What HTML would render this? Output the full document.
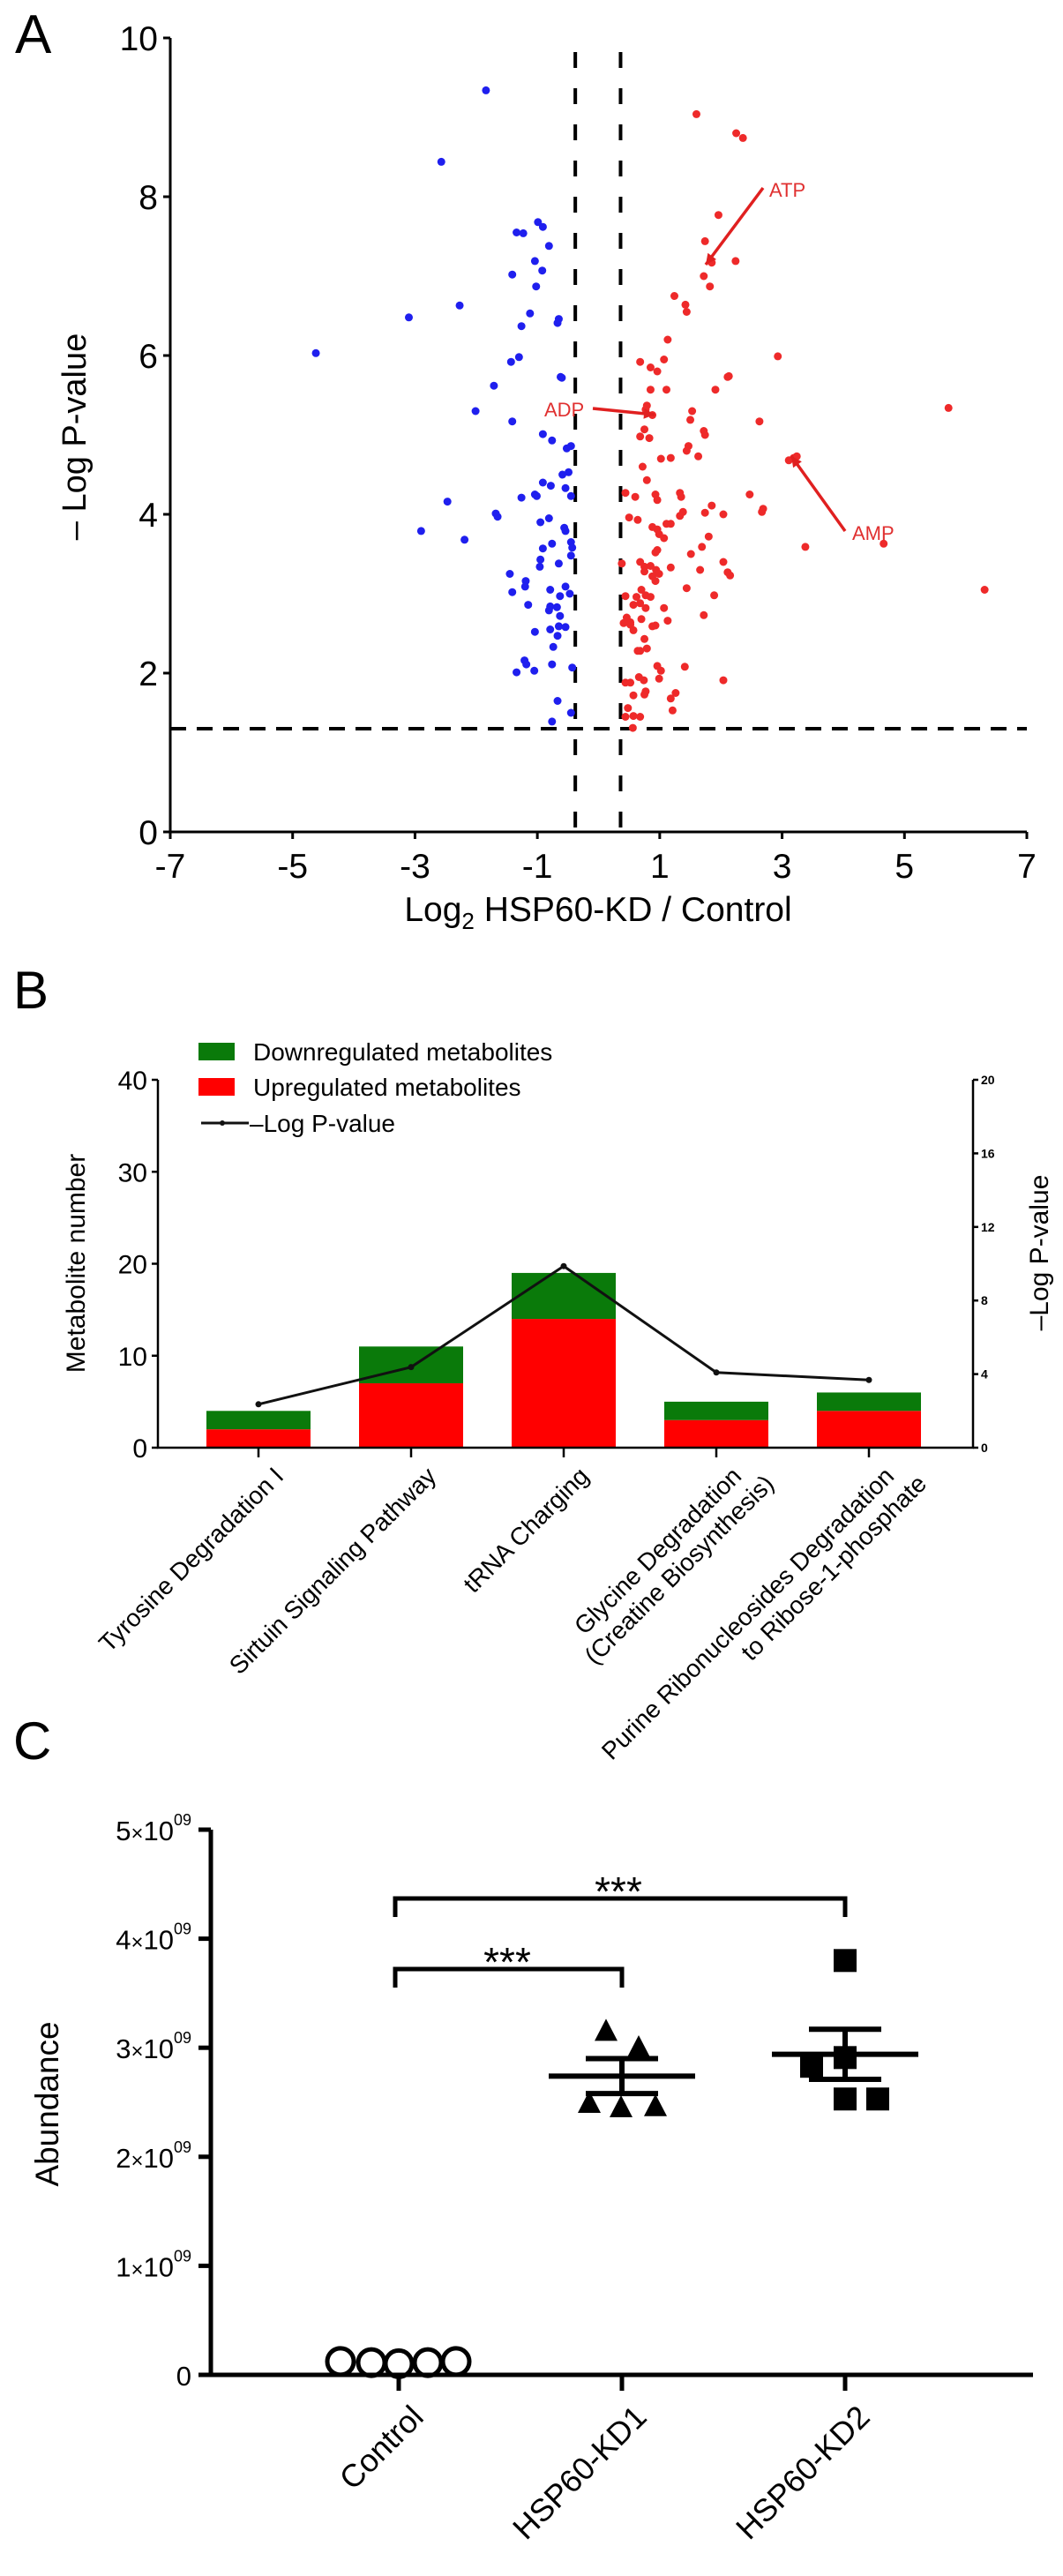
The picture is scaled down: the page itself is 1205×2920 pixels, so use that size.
<!DOCTYPE html>
<html><head><meta charset="utf-8"><style>
html,body{margin:0;padding:0;background:#fff;}
svg{display:block;font-family:"Liberation Sans",Arial,sans-serif;}
</style></head><body>
<svg id="fig" width="1205" height="2920" viewBox="0 0 1205 2920" xmlns="http://www.w3.org/2000/svg">
<g id="pa"></g>
<g id="pb"></g>
<g id="pc"></g>
</svg>
<script>
// ---------- Panel A data ----------
const blueX=[-1.84,-2.57,-0.99,-0.91,-1.34,-1.23,-0.81,-1.04,-0.92,-1.41,-1.02,-2.27,-3.10,-1.12,-0.65,-0.67,-1.26,-4.62,-1.30,-1.43,-0.62,-0.60,-1.71,-2.01,-1.41,-0.91,-0.76,-0.45,-0.52,-0.49,-0.59,-0.91,-0.78,-0.54,-0.45,-1.04,-1.01,-1.26,-2.47,-1.68,-1.65,-0.81,-0.95,-0.56,-0.54,-2.90,-2.19,-0.45,-0.76,-0.43,-0.91,-0.45,-0.95,-0.65,-0.96,-1.45,-1.19,-1.20,-0.79,-0.54,-1.41,-0.47,-0.63,-1.15,-0.79,-0.68,-0.81,-0.63,-0.65,-0.54,-0.79,-1.04,-0.67,-0.74,-1.21,-1.18,-0.76,-1.05,-1.34,-0.43,-0.67,-0.45,-0.76];
const blueY=[9.34,8.44,7.68,7.62,7.55,7.54,7.38,7.19,7.07,7.02,6.87,6.63,6.48,6.53,6.46,6.41,6.37,6.03,5.98,5.92,5.73,5.72,5.62,5.30,5.17,5.01,4.93,4.86,4.83,4.53,4.50,4.40,4.36,4.33,4.23,4.25,4.23,4.21,4.16,4.01,3.97,3.95,3.90,3.83,3.79,3.79,3.68,3.65,3.63,3.58,3.57,3.48,3.43,3.38,3.34,3.25,3.16,3.09,3.05,3.09,3.02,3.00,2.97,2.86,2.84,2.83,2.79,2.72,2.59,2.58,2.55,2.52,2.47,2.33,2.16,2.11,2.11,2.03,2.01,2.07,1.65,1.50,1.39];
const redX=[1.60,2.25,2.36,1.96,1.74,2.24,1.85,1.72,1.82,1.24,1.42,1.44,1.13,2.93,0.68,1.07,0.85,0.96,2.11,2.13,1.91,0.85,1.11,5.72,0.79,0.77,0.88,1.53,1.50,2.63,0.75,1.72,1.74,0.68,0.83,1.47,1.44,1.63,3.19,3.24,3.11,1.02,1.18,0.72,0.79,0.44,0.60,0.93,0.96,1.33,1.35,2.47,1.85,1.38,1.33,1.74,2.04,2.69,2.67,0.50,0.64,0.88,0.96,1.11,1.18,1.80,0.99,1.07,3.38,4.66,1.69,0.96,0.93,1.51,0.38,0.68,0.75,0.85,0.94,0.88,0.99,1.18,1.66,2.04,2.11,2.15,0.75,0.93,6.31,1.44,0.70,0.77,0.44,0.62,0.85,1.89,0.68,0.57,0.77,1.07,1.72,0.46,0.70,0.52,1.13,0.41,0.52,0.88,0.57,0.93,0.75,0.79,0.64,0.68,0.96,1.41,1.02,0.66,0.74,0.99,2.04,0.44,0.52,1.26,1.18,0.77,0.75,0.57,1.21,0.48,0.57,0.44,0.68,0.56];
const redY=[9.04,8.80,8.74,7.77,7.44,7.19,7.17,7.00,6.87,6.75,6.64,6.55,6.20,5.99,5.92,5.95,5.85,5.80,5.73,5.74,5.57,5.57,5.57,5.34,5.37,5.32,5.25,5.30,5.19,5.17,5.07,5.05,5.00,4.98,4.96,4.86,4.80,4.73,4.71,4.73,4.68,4.70,4.71,4.60,4.43,4.27,4.22,4.25,4.18,4.27,4.22,4.25,4.11,4.03,3.98,4.02,4.00,4.07,4.03,3.96,3.93,3.84,3.81,3.88,3.88,3.72,3.75,3.70,3.59,3.63,3.59,3.55,3.52,3.50,3.38,3.40,3.34,3.35,3.30,3.22,3.25,3.33,3.30,3.40,3.27,3.23,3.28,3.16,3.05,3.07,3.05,2.98,2.97,2.96,2.96,2.98,2.88,2.86,2.82,2.82,2.73,2.70,2.68,2.64,2.66,2.63,2.61,2.59,2.54,2.60,2.43,2.31,2.28,2.28,2.09,2.08,2.03,1.95,1.91,1.93,1.91,1.88,1.88,1.75,1.68,1.77,1.73,1.72,1.53,1.56,1.46,1.45,1.45,1.31];
const aXTicks=[-7,-5,-3,-1,1,3,5,7];
const aYTicks=[0,2,4,6,8,10];
const foldCut=[-0.38,0.36];
const pCut=[1.3];

// ---------- Panel B data ----------
const pathways=[["Tyrosine Degradation I"],["Sirtuin Signaling Pathway"],["tRNA Charging"],["Glycine Degradation","(Creatine Biosynthesis)"],["Purine Ribonucleosides Degradation","to Ribose-1-phosphate"]];
const upCounts=[2,7,14,3,4];
const downCounts=[2,4,5,2,2];
const logP=[2.36,4.38,9.87,4.09,3.68];
const bLeftTicks=[0,10,20,30,40];
const bRightTicks=[0,4,8,12,16,20];

// ---------- Panel C data ----------
const groups=["Control","HSP60-KD1","HSP60-KD2"];
const ctrlVals=[0.09,0.08,0.07,0.08,0.09];
const kd1Vals=[3.16,3.01,2.50,2.46,2.47];
const kd2Vals=[3.80,2.83,2.91,2.53,2.53];
const groupMeans=[0.08,2.74,2.94];
const groupSem=[0.01,0.16,0.23];
const cYTicks=[0,1,2,3,4,5];

const NS="http://www.w3.org/2000/svg";
function mk(parent,tag,attrs){const e=document.createElementNS(NS,tag);for(const k in attrs)e.setAttribute(k,attrs[k]);parent.appendChild(e);return e;}

// ===== Panel A =====
(function(){
const g=document.getElementById('pa');
const x=v=>193+(v+7)*(1164-193)/14;
const y=v=>943-v*90;
let t=mk(g,'text',{x:17,y:60,'font-size':62});t.textContent='A';


let ax=mk(g,'path',{d:`M${x(-7)} ${y(10)}V${y(0)}H${x(7)}`,stroke:'#000','stroke-width':3,fill:'none'});


aYTicks.forEach(v=>{
  mk(g,'line',{x1:x(-7)-8,x2:x(-7),y1:y(v),y2:y(v),stroke:'#000','stroke-width':3});
  const l=mk(g,'text',{x:x(-7)-14,y:y(v)+14,'font-size':39,'text-anchor':'end'});l.textContent=v;
  
  
});
aXTicks.forEach(v=>{
  mk(g,'line',{x1:x(v),x2:x(v),y1:y(0),y2:y(0)+8,stroke:'#000','stroke-width':3});
  const l=mk(g,'text',{x:x(v),y:y(0)+52,'font-size':39,'text-anchor':'middle'});l.textContent=v;
  
  
});
foldCut.forEach(v=>{
  const d=mk(g,'line',{x1:x(v),x2:x(v),y1:59,y2:y(0),stroke:'#000','stroke-width':4,'stroke-dasharray':'18 23'});
  
  
});
pCut.forEach(v=>{
  const d=mk(g,'line',{x1:x(-7),x2:x(7),y1:y(v),y2:y(v),stroke:'#000','stroke-width':4,'stroke-dasharray':'18 12'});
  
  
});
blueX.forEach((v,i)=>{
  const c=mk(g,'circle',{cx:x(v),cy:y(blueY[i]),r:4.5,fill:'#1f1fee'});
  
  
});
redX.forEach((v,i)=>{
  const c=mk(g,'circle',{cx:x(v),cy:y(redY[i]),r:4.5,fill:'#ee2a2a'});
  
  
});
const ann=[['ATP',872,223,865,213,800,300],['ADP',617,472,672,463,742,470],['AMP',966,612,958,602,897,517]];
ann.forEach(a=>{
  const l=mk(g,'line',{x1:a[3],y1:a[4],x2:a[5],y2:a[6],stroke:'#e02020','stroke-width':3.5});
  
  
  const ang=Math.atan2(a[6]-a[4],a[5]-a[3]);
  const hx=a[5],hy=a[6],L=12,W=6;
  const p1=[hx-L*Math.cos(ang)+W*Math.sin(ang),hy-L*Math.sin(ang)-W*Math.cos(ang)];
  const p2=[hx-L*Math.cos(ang)-W*Math.sin(ang),hy-L*Math.sin(ang)+W*Math.cos(ang)];
  mk(g,'polygon',{points:`${hx},${hy} ${p1} ${p2}`,fill:'#e02020'});
  const t=mk(g,'text',{x:a[1],y:a[2],'font-size':22,fill:'#e03030'});t.textContent=a[0];
  
  
});
let yl=mk(g,'text',{transform:'translate(97,495) rotate(-90)','font-size':38,'text-anchor':'middle'});yl.textContent='– Log P-value';


let xl=mk(g,'text',{x:678,y:1044,'font-size':39,'text-anchor':'middle'});
xl.innerHTML='Log<tspan font-size="26" dy="9">2</tspan><tspan dy="-9"> HSP60-KD / Control</tspan>';


})();

// ===== Panel B =====
(function(){
const g=document.getElementById('pb');
const x0=179,x1=1103,yb=1641,yt=1224;
const yL=v=>yb-v*(yb-yt)/40;
const yR=v=>yb-v*(yb-yt)/20;
const cx=i=>293+i*173;
let t=mk(g,'text',{x:15,y:1143,'font-size':60});t.textContent='B';


upCounts.forEach((u,i)=>{
  const d=downCounts[i];
  const r1=mk(g,'rect',{x:cx(i)-59,y:yL(u),width:118,height:yL(0)-yL(u),fill:'#ff0000'});
  
  
  const r2=mk(g,'rect',{x:cx(i)-59,y:yL(u+d),width:118,height:yL(u)-yL(u+d),fill:'#0a7a0a'});
  
  
});
let ax=mk(g,'path',{d:`M${x0} ${yt}V${yb}H${x1}V${yt}`,stroke:'#000','stroke-width':2.5,fill:'none'});


bLeftTicks.forEach(v=>{
  mk(g,'line',{x1:x0-7,x2:x0,y1:yL(v),y2:yL(v),stroke:'#000','stroke-width':2.5});
  const l=mk(g,'text',{x:x0-12,y:yL(v)+11,'font-size':30,'text-anchor':'end'});l.textContent=v;
  
  
});
bRightTicks.forEach(v=>{
  mk(g,'line',{x1:x1,x2:x1+6,y1:yR(v),y2:yR(v),stroke:'#000','stroke-width':2.5});
  const l=mk(g,'text',{x:x1+9,y:yR(v)+5,'font-size':14,'font-weight':'bold'});l.textContent=v;
  
  
});
const pts=logP.map((v,i)=>cx(i)+','+yR(v)).join(' ');
let pl=mk(g,'polyline',{points:pts,fill:'none',stroke:'#111','stroke-width':3});


logP.forEach((v,i)=>{
  const m=mk(g,'circle',{cx:cx(i),cy:yR(v),r:3.5,fill:'#111'});
  
  
});
pathways.forEach((lines,i)=>{
  mk(g,'line',{x1:cx(i),x2:cx(i),y1:yb,y2:yb+11,stroke:'#000','stroke-width':2.5});
  const px=cx(i)+30,py=yb+34;
  const tx=mk(g,'text',{transform:`translate(${px},${py}) rotate(-45)`,'font-size':28,'text-anchor':'end'});
  
  
  lines.forEach((s,j)=>{const ts=mk(tx,'tspan',{x:j?20:0,dy:j?'1.15em':0});ts.textContent=s;});
});
const leg=[['#0a7a0a','Downregulated metabolites',1192,'legend-downregulated'],['#ff0000','Upregulated metabolites',1232,'legend-upregulated']];
leg.forEach(l=>{
  const r=mk(g,'rect',{x:225,y:l[2]-10,width:41,height:20,fill:l[0]});
  
  
  const tx=mk(g,'text',{x:287,y:l[2]+10,'font-size':28});tx.textContent=l[1];
  
  
});
mk(g,'line',{x1:228,x2:282,y1:1273,y2:1273,stroke:'#111','stroke-width':3});
mk(g,'circle',{cx:252,cy:1273,r:3,fill:'#111'});
let lt=mk(g,'text',{x:283,y:1283,'font-size':28});lt.textContent='–Log P-value';


let yl=mk(g,'text',{transform:'translate(96,1432) rotate(-90)','font-size':30,'text-anchor':'middle'});yl.textContent='Metabolite number';


let yr=mk(g,'text',{transform:'translate(1188,1420) rotate(-90)','font-size':30,'text-anchor':'middle'});yr.textContent='–Log P-value';


})();

// ===== Panel C =====
(function(){
const g=document.getElementById('pc');
const x0=239,y0=2692;
const y=v=>y0-v*123.6;
const gx=[452,705,958];
let t=mk(g,'text',{x:15,y:1994,'font-size':60});t.textContent='C';


let ax=mk(g,'path',{d:`M${x0} ${y(5)}V${y0}M${x0-14} ${y0}H1171`,stroke:'#000','stroke-width':5,fill:'none'});


cYTicks.forEach(v=>{
  mk(g,'line',{x1:x0-14,x2:x0,y1:y(v),y2:y(v),stroke:'#000','stroke-width':5});
  const l=mk(g,'text',{x:x0-22,y:y(v)+12,'font-size':31,'text-anchor':'end'});
  if(v===0){l.textContent='0';}
  else{l.innerHTML=v+'<tspan font-size="24">×</tspan>10<tspan font-size="18" dy="-17">09</tspan>';}
  
  
});
groups.forEach((nm,i)=>{
  mk(g,'line',{x1:gx[i],x2:gx[i],y1:y0,y2:y0+18,stroke:'#000','stroke-width':5});
  const tx=mk(g,'text',{transform:`translate(${gx[i]+30},${y0+50}) rotate(-45)`,'font-size':36,'text-anchor':'end'});tx.textContent=nm;
  
  
});
const cOff=[-66,-31,0,33,65];
ctrlVals.forEach((v,i)=>{
  const c=mk(g,'circle',{cx:gx[0]+cOff[i],cy:y(v)-4,r:15,fill:'none',stroke:'#000','stroke-width':5});
  
  
});
const tOff=[-18,19,-37,-1,38];
kd1Vals.forEach((v,i)=>{
  const px=gx[1]+tOff[i],py=y(v);
  const p=mk(g,'polygon',{points:`${px},${py-13} ${px-13},${py+12} ${px+13},${py+12}`,fill:'#000'});
  
  
});
const sOff=[0,-38,0,0,37];
kd2Vals.forEach((v,i)=>{
  const px=gx[2]+sOff[i],py=y(v);
  const r=mk(g,'rect',{x:px-13,y:py-13,width:26,height:26,fill:'#000'});
  
  
});
[1,2].forEach(i=>{
  const m=groupMeans[i],s=groupSem[i],cx=gx[i];
  const e=mk(g,'path',{d:`M${cx-83} ${y(m)}H${cx+83}M${cx-41} ${y(m+s)}H${cx+41}M${cx-41} ${y(m-s)}H${cx+41}M${cx} ${y(m+s)}V${y(m-s)}`,stroke:'#000','stroke-width':6,fill:'none'});
  
  
});
const br=[[2,2152,2173,701,2142],[1,2232,2253,575,2222]];
br.forEach(b=>{
  const p=mk(g,'path',{d:`M448 ${b[2]}V${b[1]}H${gx[b[0]]}V${b[2]}`,stroke:'#000','stroke-width':5,fill:'none'});
  
  
  const s=mk(g,'text',{x:b[3],y:b[4]+18,'font-size':46,'text-anchor':'middle'});s.textContent='***';
  
  
});
let yl=mk(g,'text',{transform:'translate(66,2385) rotate(-90)','font-size':37,'text-anchor':'middle'});yl.textContent='Abundance';


})();
</script>
</body></html>
